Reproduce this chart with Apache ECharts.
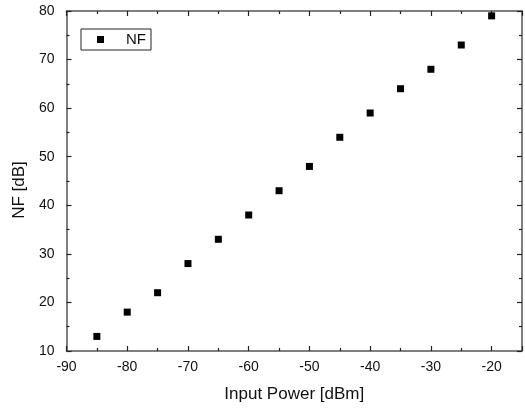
<!DOCTYPE html>
<html>
<head>
<meta charset="utf-8">
<script src="https://cdn.jsdelivr.net/npm/echarts@6/dist/echarts.min.js"></script>
<style>
  html, body { margin: 0; padding: 0; background: #fff; }
  #chart { width: 525px; height: 412px; }
</style>
</head>
<body>
<div id="chart"></div>
<script>
// 数据
const inputPower = [-85, -80, -75, -70, -65, -60, -55, -50, -45, -40, -35, -30, -25, -20]
const nfValues = [13, 18, 22, 28, 33, 38, 43, 48, 54, 59, 64, 68, 73, 79]
const points = inputPower.map((x, i) => [x, nfValues[i]])

const font = 'Liberation Sans, Arial, sans-serif'
const axisColor = '#555'

// 共用的轴样式
const frameAxis = (extra) => Object.assign({
  type: 'value',
  axisLine: { show: true, onZero: false, lineStyle: { color: axisColor, width: 1.5 } },
  axisTick: { show: true, inside: true, length: 5, lineStyle: { color: '#222', width: 1.2 } },
  minorTick: { show: true, splitNumber: 2, length: 3, lineStyle: { color: '#222', width: 1.2 } },
  splitLine: { show: false },
  axisLabel: { color: '#111', fontSize: 14, fontFamily: font },
}, extra)

let mycharts = echarts.init(document.getElementById('chart'))
const option = {
  animation: false,
  grid: { left: 66.5, right: 1.5, top: 11, bottom: 61 },
  legend: {
    left: 81,
    top: 29,
    data: ['NF'],
    orient: 'vertical',
    padding: [3, 5, 3, 16],
    itemGap: 0,
    itemWidth: 7,
    itemHeight: 7,
    borderColor: '#222',
    borderWidth: 1,
    borderRadius: 0,
    textStyle: { fontSize: 15, fontFamily: font, color: '#111', padding: [0, 0, 0, 17] },
  },
  xAxis: [
    frameAxis({
      min: -90, max: -15, interval: 10,
      name: 'Input Power [dBm]',
      nameLocation: 'middle',
      nameGap: 35,
      nameTextStyle: { fontSize: 17, fontFamily: font, color: '#111' },
      axisLabel: {
        color: '#111', fontSize: 14, fontFamily: font, margin: 9,
        formatter: (v) => (v === -15 ? '' : v),
      },
    }),
    frameAxis({
      min: -90, max: -15, interval: 10, position: 'top',
      axisLabel: { show: false },
    }),
  ],
  yAxis: [
    frameAxis({
      min: 10, max: 80, interval: 10,
      name: 'NF [dB]',
      nameLocation: 'middle',
      nameGap: 33,
      nameTextStyle: { fontSize: 17, fontFamily: font, color: '#111', padding: [0, 18, 0, 0] },
      axisLabel: { color: '#111', fontSize: 14, fontFamily: font, margin: 12 },
    }),
    frameAxis({
      min: 10, max: 80, interval: 10, position: 'right',
      axisLabel: { show: false },
    }),
  ],
  series: [
    {
      name: 'NF',
      type: 'scatter',
      symbol: 'rect',
      symbolSize: 7,
      itemStyle: { color: '#000', opacity: 1 },
      data: points,
    },
  ],
}
mycharts.setOption(option)
</script>
</body>
</html>
